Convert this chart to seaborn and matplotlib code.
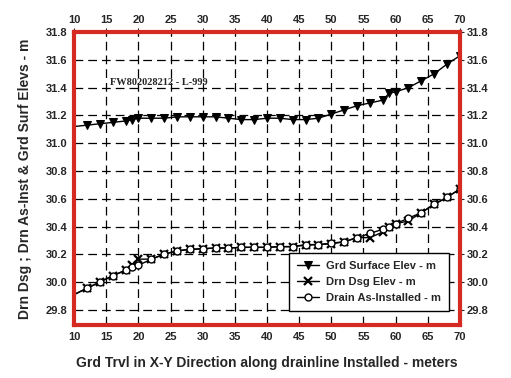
import numpy as np
import pandas as pd
import matplotlib
matplotlib.use("Agg")
import matplotlib.pyplot as plt
import seaborn as sns

# station along drainline (m)
stations = [10, 12, 14, 16, 18, 19, 20, 22, 24, 26, 28, 30, 32, 34, 36, 38, 40, 42, 44, 46,
            48, 50, 52, 54, 56, 58, 59, 60, 62, 64, 66, 68, 70]

grd_surface = [31.12, 31.13, 31.14, 31.15, 31.16, 31.17, 31.18, 31.18, 31.18, 31.19, 31.19, 31.19,
               31.19, 31.18, 31.17, 31.17, 31.18, 31.18, 31.17, 31.17, 31.18, 31.21, 31.24, 31.27,
               31.29, 31.31, 31.36, 31.37, 31.40, 31.45, 31.50, 31.57, 31.63]

drn_design = [29.91, 29.955, 30.00, 30.045, 30.085, 30.12, 30.165, 30.165, 30.20, 30.225, 30.235, 30.24,
              30.245, 30.245, 30.25, 30.25, 30.25, 30.255, 30.255, 30.265, 30.27, 30.275, 30.29, 30.32,
              30.32, 30.36, 30.40, 30.42, 30.44, 30.50, 30.56, 30.61, 30.67]

drn_installed = [29.91, 29.955, 30.00, 30.045, 30.085, 30.105, 30.12, 30.165, 30.20, 30.225, 30.235, 30.24,
                 30.245, 30.245, 30.25, 30.25, 30.25, 30.255, 30.255, 30.27, 30.27, 30.28, 30.29, 30.32,
                 30.35, 30.38, 30.40, 30.42, 30.46, 30.50, 30.56, 30.61, 30.67]

df = pd.DataFrame({"station": stations, "grd": grd_surface,
                   "dsg": drn_design, "inst": drn_installed})

sns.set_style("white")
plt.rcParams['font.family'] = ['Liberation Sans', 'DejaVu Sans']

fig = plt.figure(figsize=(5.11, 3.78), dpi=100)
ax = fig.add_axes([0.145, 0.14, 0.755, 0.775])

mk = slice(1, None)  # no marker at the start station
sns.lineplot(data=df, x="station", y="grd", ax=ax, color="black", lw=1, marker="v",
             markersize=5.5, mfc="black", mec="black", markevery=mk, label="Grd Surface Elev - m")
sns.lineplot(data=df, x="station", y="dsg", ax=ax, color="black", lw=1, marker="x",
             markersize=5.5, mew=1.6, mec="black", markevery=mk, label="Drn Dsg Elev - m")
sns.lineplot(data=df, x="station", y="inst", ax=ax, color="black", lw=1, marker="o",
             markersize=5, mfc="white", mec="black", mew=1, markevery=mk, label="Drain As-Installed - m")

ax.set_xlim(10, 70)
ax.set_ylim(29.69, 31.8)
ax.set_xticks(np.arange(10, 71, 5))
ax.set_yticks(np.round(np.arange(29.8, 31.81, 0.2), 1))
ax.yaxis.set_major_formatter(matplotlib.ticker.FormatStrFormatter("%.1f"))

ax.grid(True, color="black", linestyle=(0, (7, 4)), lw=0.9)
ax.tick_params(axis="both", which="both", labelsize=8, top=True, right=True,
               labeltop=True, labelright=True, length=3, direction="out", pad=2)
for t in ax.xaxis.get_major_ticks() + ax.yaxis.get_major_ticks():
    t.label1.set_fontweight("bold")
    t.label2.set_fontweight("bold")

for s in ax.spines.values():
    s.set_color("#d42a22")
    s.set_linewidth(3)

ax.set_xlabel("Grd Trvl in X-Y Direction along drainline Installed - meters",
              fontsize=10, fontweight="bold", labelpad=10)
ax.set_ylabel("Drn Dsg ; Drn As-Inst & Grd Surf Elevs - m", fontsize=10, fontweight="bold", labelpad=10)

ax.text(15.6, 31.44, "FW802028212 - L-999", fontsize=7.5, fontweight="bold",
        family=["Liberation Serif", "DejaVu Serif"], va="center")

leg = ax.legend(loc="lower right", bbox_to_anchor=(0.985, 0.03), frameon=True,
                fancybox=False, edgecolor="black", framealpha=1, handlelength=2.0,
                handletextpad=0.6, borderpad=0.7, labelspacing=0.55,
                prop={"weight": "bold", "size": 8})
leg.get_frame().set_linewidth(1)

fig.savefig("out.png", dpi=100)
